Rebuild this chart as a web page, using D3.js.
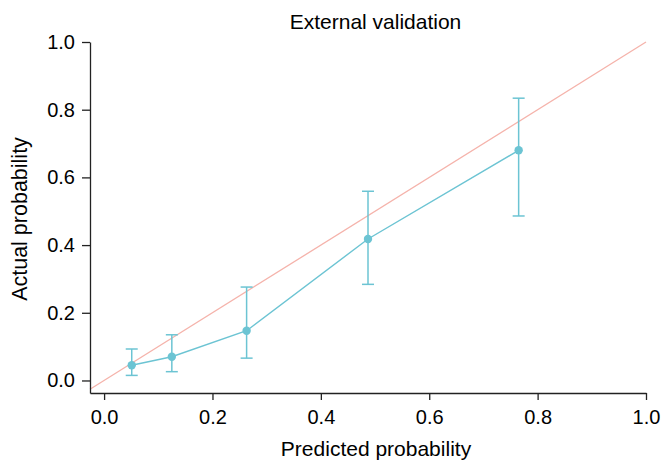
<!DOCTYPE html>
<html>
<head>
<meta charset="utf-8">
<script src="https://cdn.jsdelivr.net/npm/d3@7"></script>
<style>
  body { margin: 0; background: #fff; }
  text { font-family: "Liberation Sans", Arial, sans-serif; }
</style>
</head>
<body>
<div id="here"></div>
<script>
   var w = 665, h = 461;

   // calibration bins
   var predicted = [0.051, 0.125, 0.263, 0.487, 0.765];
   var actual    = [0.045, 0.070, 0.147, 0.418, 0.680];
   var lower     = [0.015, 0.026, 0.066, 0.284, 0.486];
   var upper     = [0.093, 0.135, 0.276, 0.559, 0.834];
   var ticks     = [0, 0.2, 0.4, 0.6, 0.8, 1.0];

   var teal = '#6cc4d3', pink = '#f5b3ab';

   var x = d3.scaleLinear().domain([-0.026, 1]).range([90, 646]);
   var y = d3.scaleLinear().domain([-0.037, 1]).range([393, 42]);

   var svg = d3.select('#here').append("svg")
      .attr("width", w)
      .attr("height", h)
      .style("background", "#fff");

   // reference diagonal
   svg.append("line")
      .attr("x1", x(-0.026)).attr("y1", y(-0.026))
      .attr("x2", x(1)).attr("y2", y(1))
      .attr("stroke", pink)
      .attr("stroke-width", 1.3);

   var pts = predicted.map(function(p, i) {
      return {p: p, a: actual[i], lo: lower[i], hi: upper[i]};
   });

   svg.append("path")
      .datum(pts)
      .attr("fill", "none")
      .attr("stroke", teal)
      .attr("stroke-width", 1.4)
      .attr("d", d3.line().x(function(d) { return x(d.p); }).y(function(d) { return y(d.a); }));

   var eb = svg.selectAll(".eb").data(pts).enter().append("g")
      .attr("stroke", teal).attr("stroke-width", 1.5);
   eb.append("line")
      .attr("x1", function(d) { return x(d.p); }).attr("x2", function(d) { return x(d.p); })
      .attr("y1", function(d) { return y(d.lo); }).attr("y2", function(d) { return y(d.hi); });
   eb.append("line")
      .attr("x1", function(d) { return x(d.p) - 6; }).attr("x2", function(d) { return x(d.p) + 6; })
      .attr("y1", function(d) { return y(d.lo); }).attr("y2", function(d) { return y(d.lo); });
   eb.append("line")
      .attr("x1", function(d) { return x(d.p) - 6; }).attr("x2", function(d) { return x(d.p) + 6; })
      .attr("y1", function(d) { return y(d.hi); }).attr("y2", function(d) { return y(d.hi); });

   svg.selectAll(".pt").data(pts).enter().append("circle")
      .attr("cx", function(d) { return x(d.p); })
      .attr("cy", function(d) { return y(d.a); })
      .attr("r", 4.2)
      .attr("fill", teal);

   // axes
   var xa = svg.append("g")
      .attr("transform", "translate(0," + 393 + ")")
      .call(d3.axisBottom(x).tickValues(ticks).tickFormat(d3.format(".1f")).tickSize(7).tickSizeOuter(0).tickPadding(10));
   var ya = svg.append("g")
      .attr("transform", "translate(" + 90 + ",0)")
      .call(d3.axisLeft(y).tickValues(ticks).tickFormat(d3.format(".1f")).tickSize(8).tickSizeOuter(0).tickPadding(7));
   [xa, ya].forEach(function(a) {
      a.select(".domain").attr("stroke", "#222").attr("stroke-width", 1.3);
      a.selectAll(".tick line").attr("stroke", "#222").attr("stroke-width", 1.3);
      a.selectAll(".tick text")
        .attr("fill", "#000")
        .style("font-family", "'Liberation Sans', Arial, sans-serif")
        .style("font-size", "20px");
   });

   svg.append("text")
      .attr("x", 375.5).attr("y", 29)
      .attr("text-anchor", "middle")
      .style("font-size", "21px")
      .text("External validation");

   svg.append("text")
      .attr("x", 376).attr("y", 456)
      .attr("text-anchor", "middle")
      .style("font-size", "21px")
      .text("Predicted probability");

   svg.append("text")
      .attr("transform", "translate(27,219) rotate(-90)")
      .attr("text-anchor", "middle")
      .style("font-size", "21.5px")
      .text("Actual probability");
</script>
</body>
</html>
